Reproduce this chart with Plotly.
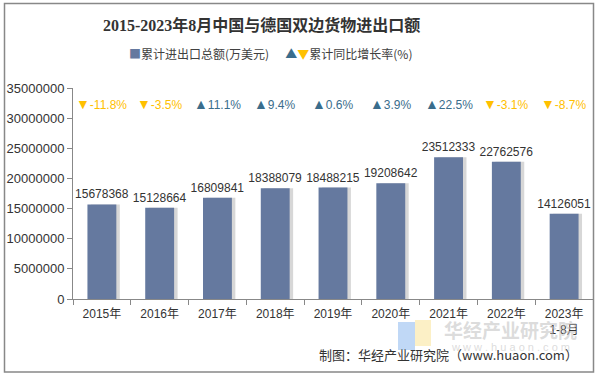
import plotly.graph_objects as go

years = ['2015年', '2016年', '2017年', '2018年', '2019年', '2020年', '2021年', '2022年', '2023年']
tick_text = ['2015年', '2016年', '2017年', '2018年', '2019年', '2020年', '2021年', '2022年', '2023年<br>1-8月']
values = [15678368, 15128664, 16809841, 18388079, 18488215, 19208642, 23512333, 22762576, 14126051]
growth = [-11.8, -3.5, 11.1, 9.4, 0.6, 3.9, 22.5, -3.1, -8.7]

W, H = 598, 375
L, R, T, B = 73, 5, 88, 76
PW, PH = W - L - R, H - T - B

def px(x):
    return (x - L) / PW

def py(y):
    return (H - B - y) / PH

BAR = '#65799f'
UP = '#3a6d8c'
DOWN = '#ffc000'
FONT = 'Arial, Liberation Sans, Noto Sans CJK SC, sans-serif'
CJK = 'Noto Sans CJK SC, sans-serif'
SERIF = 'Liberation Serif, Times New Roman, Noto Sans CJK SC, serif'

fig = go.Figure()
# soft shadow behind bars
fig.add_trace(go.Bar(
    x=years, y=values, width=0.5, offset=-0.19,
    marker=dict(color='rgba(110,110,110,0.28)', line=dict(width=0)),
    hoverinfo='skip', showlegend=False,
))
fig.add_trace(go.Bar(
    x=years, y=values, width=0.5, offset=-0.25,
    marker=dict(color=BAR, line=dict(width=0)),
    text=[str(v) for v in values], textposition='outside', constraintext='none',
    textfont=dict(family=FONT, size=12, color='#333333'),
    cliponaxis=False, showlegend=False,
))

annotations = []
for yr, g in zip(years, growth):
    if g < 0:
        tri = '▼'
        col = DOWN
    else:
        tri = '▲'
        col = UP
    txt = f"<span style='font-size:14px'>{tri}</span>{g}%"
    annotations.append(dict(x=yr, xref='x', y=py(104), yref='paper', text=txt,
                            xanchor='center', yanchor='middle',
                            showarrow=False, font=dict(family=FONT, size=12, color=col)))

def ann(x, y, text, size, color, family=CJK, xanchor='center'):
    annotations.append(dict(x=px(x), y=py(y), xref='paper', yref='paper', text=text,
                            xanchor=xanchor, yanchor='middle', showarrow=False,
                            font=dict(family=family, size=size, color=color)))

ann(261, 25, '<b>2015-2023年8月中国与德国双边货物进出口额</b>', 16, '#333333', family=SERIF)
ann(270, 54, (f"<span style='color:{BAR}'>■</span>累计进出口总额(万美元)"
              f"      <span style='color:{UP}'>▲</span><span style='color:{DOWN}'>▼</span>累计同比增长率(%)"),
    12, '#404040')
# watermark
ann(510, 329, '<b>华经产业研究院</b>', 19, 'rgba(190,190,190,0.55)')
ann(510, 347, 'w w w . h u a o n . c o m', 11, 'rgba(190,190,190,0.55)', family=FONT)
ann(580, 354, '制图：华经产业研究院（www.huaon.com）', 13, '#333333', xanchor='right')

shapes = [
    dict(type='rect', xref='paper', yref='paper', x0=px(398), x1=px(415), y0=py(350), y1=py(322),
         fillcolor='rgba(150,190,240,0.6)', line=dict(width=0), layer='below'),
    dict(type='rect', xref='paper', yref='paper', x0=px(415), x1=px(431), y0=py(346), y1=py(320),
         fillcolor='rgba(250,230,160,0.6)', line=dict(width=0), layer='below'),
    dict(type='rect', xref='paper', yref='paper', x0=px(4.5), x1=px(593.5), y0=py(3.5), y1=py(372),
         line=dict(color='#888888', width=1.5), fillcolor='rgba(0,0,0,0)'),
]

fig.update_layout(
    width=W, height=H, margin=dict(l=L, r=R, t=T, b=B, autoexpand=False),
    paper_bgcolor='white', plot_bgcolor='white',
    barmode='overlay', showlegend=False,
    annotations=annotations, shapes=shapes,
    font=dict(family=FONT, size=12, color='#333333'),
    xaxis=dict(type='category', tickvals=years, ticktext=tick_text, showline=True,
               linecolor='#888888', linewidth=1, ticks='outside', tickson='boundaries',
               ticklen=5, tickcolor='#888888', showgrid=False, automargin=False,
               ticklabelstandoff=4,
               tickfont=dict(family=FONT, size=12, color='#333333')),
    yaxis=dict(range=[0, 35000000], dtick=5000000, tickformat='d', showline=True,
               linecolor='#888888', linewidth=1, ticks='outside', ticklen=5,
               tickcolor='#888888', showgrid=False, zeroline=False, automargin=False,
               tickfont=dict(family=FONT, size=13, color='#333333')),
)

fig.write_html('out.html', config={'displayModeBar': False},
               post_script="document.body.style.margin='0px';")
